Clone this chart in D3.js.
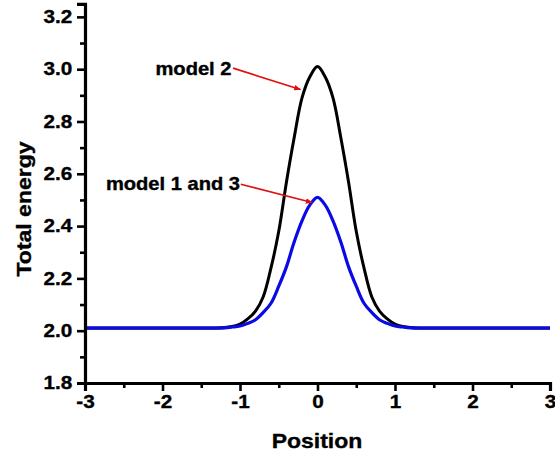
<!DOCTYPE html>
<html>
<head>
<meta charset="utf-8">
<script src="https://cdn.jsdelivr.net/npm/d3@7"></script>
<style>
  body { margin: 0; background: #fff; }
  text { font-family: Arial, "Liberation Sans", sans-serif; font-weight: bold; fill: #000; stroke: #000; stroke-width: 0.35px; }
</style>
</head>
<body>
<script>
// values
const positions = [-3, -2.5, -2, -1.5, -1.4, -1.2, -1.1, -1.0, -0.9, -0.8, -0.7, -0.6, -0.5, -0.4, -0.3, -0.2, -0.1, 0,
  0.1, 0.2, 0.3, 0.4, 0.5, 0.6, 0.7, 0.8, 0.9, 1.0, 1.1, 1.2, 1.4, 1.5, 2, 2.5, 3];
const model2 = [2.01, 2.01, 2.01, 2.01, 2.01, 2.012, 2.016, 2.025, 2.045, 2.075, 2.13, 2.24, 2.38, 2.57, 2.74, 2.89, 2.97, 3.01,
  2.97, 2.89, 2.74, 2.57, 2.38, 2.24, 2.13, 2.075, 2.045, 2.025, 2.016, 2.012, 2.01, 2.01, 2.01, 2.01, 2.01];
const model13 = [2.01, 2.01, 2.01, 2.01, 2.01, 2.011, 2.014, 2.018, 2.028, 2.042, 2.07, 2.105, 2.17, 2.245, 2.34, 2.42, 2.48, 2.51,
  2.48, 2.42, 2.34, 2.245, 2.17, 2.105, 2.07, 2.042, 2.028, 2.018, 2.014, 2.011, 2.01, 2.01, 2.01, 2.01, 2.01];

const xTicks = [-3, -2, -1, 0, 1, 2, 3];
const yTicks = [1.8, 2.0, 2.2, 2.4, 2.6, 2.8, 3.0, 3.2];

// annotations in data units: label end point, arrow start, arrow tip
const notes = [
  { label: "model 2", tx: -1.11, ty: 3.0, ax: -1.09, ay: 3.004, bx: -0.22, by: 2.922 },
  { label: "model 1 and 3", tx: -1.0, ty: 2.56, ax: -0.99, ay: 2.56, bx: -0.07, by: 2.49 }
];

const width = 555, height = 457;
const stretch = 1.15;

const svg = d3.select("body").append("svg")
  .attr("width", width)
  .attr("height", height);

const x = d3.scaleLinear().domain([-3, 3]).range([85, 550]);
const y = d3.scaleLinear().domain([1.8, 3.25]).range([383, 3.8]);

// arrow head
svg.append("defs").append("marker")
  .attr("id", "head")
  .attr("viewBox", "0 0 10 10")
  .attr("refX", 9).attr("refY", 5)
  .attr("markerWidth", 7).attr("markerHeight", 7)
  .attr("markerUnits", "userSpaceOnUse")
  .attr("orient", "auto")
  .append("path")
  .attr("d", "M0,1L10,5L0,9Z")
  .attr("fill", "#e01010");

const line = d3.line()
  .x((d, i) => x(positions[i]))
  .y(d => y(d))
  .curve(d3.curveCatmullRom.alpha(0.5));

svg.append("path")
  .datum(model2)
  .attr("d", line)
  .attr("fill", "none")
  .attr("stroke", "#000")
  .attr("stroke-width", 3);

svg.append("path")
  .datum(model13)
  .attr("d", line)
  .attr("fill", "none")
  .attr("stroke", "#0a0ae6")
  .attr("stroke-width", 3.2);

// axes
const xAxis = svg.append("g")
  .attr("transform", `translate(0,${y(1.8)})`)
  .call(d3.axisBottom(x).tickValues(d3.range(-3, 3.01, 0.5)).tickSize(8)
    .tickFormat(d => xTicks.includes(d) ? String(d) : ""));
const yAxis = svg.append("g")
  .attr("transform", `translate(${x(-3)},0)`)
  .call(d3.axisLeft(y).tickValues(d3.range(1.8, 3.21, 0.1).map(v => +v.toFixed(1))).tickSize(8)
    .tickFormat(d => yTicks.includes(d) ? d.toFixed(1) : ""));

[xAxis, yAxis].forEach(g => {
  g.select(".domain").attr("stroke", "#000").attr("stroke-width", 3.2);
  g.selectAll(".tick line").attr("stroke", "#000").attr("stroke-width", 2.6);
  g.selectAll(".tick text").attr("font-size", 18).attr("font-family", null).attr("fill", null)
    .attr("transform", `scale(${stretch},1)`);
});
// minor ticks shorter
xAxis.selectAll(".tick").filter(d => !xTicks.includes(d)).select("line").attr("y2", 5);
yAxis.selectAll(".tick").filter(d => !yTicks.includes(d)).select("line").attr("x2", -5);
xAxis.selectAll(".tick text").attr("y", 12);
yAxis.selectAll(".tick text").attr("x", -11);

// axis titles
svg.append("text")
  .attr("transform", `translate(317,448) scale(1.15,1)`)
  .attr("text-anchor", "middle")
  .attr("font-size", 20)
  .text("Position");

svg.append("text")
  .attr("transform", `translate(31,209) rotate(-90) scale(1.15,1)`)
  .attr("text-anchor", "middle")
  .attr("font-size", 20)
  .text("Total energy");

// annotations
notes.forEach(n => {
  svg.append("text")
    .attr("transform", `translate(${x(n.tx)},${y(n.ty) + 6}) scale(${stretch},1)`)
    .attr("text-anchor", "end")
    .attr("font-size", 17.5)
    .text(n.label);
  svg.append("line")
    .attr("x1", x(n.ax)).attr("y1", y(n.ay))
    .attr("x2", x(n.bx)).attr("y2", y(n.by))
    .attr("stroke", "#e01010")
    .attr("stroke-width", 1.6)
    .attr("marker-end", "url(#head)");
});
</script>
</body>
</html>
